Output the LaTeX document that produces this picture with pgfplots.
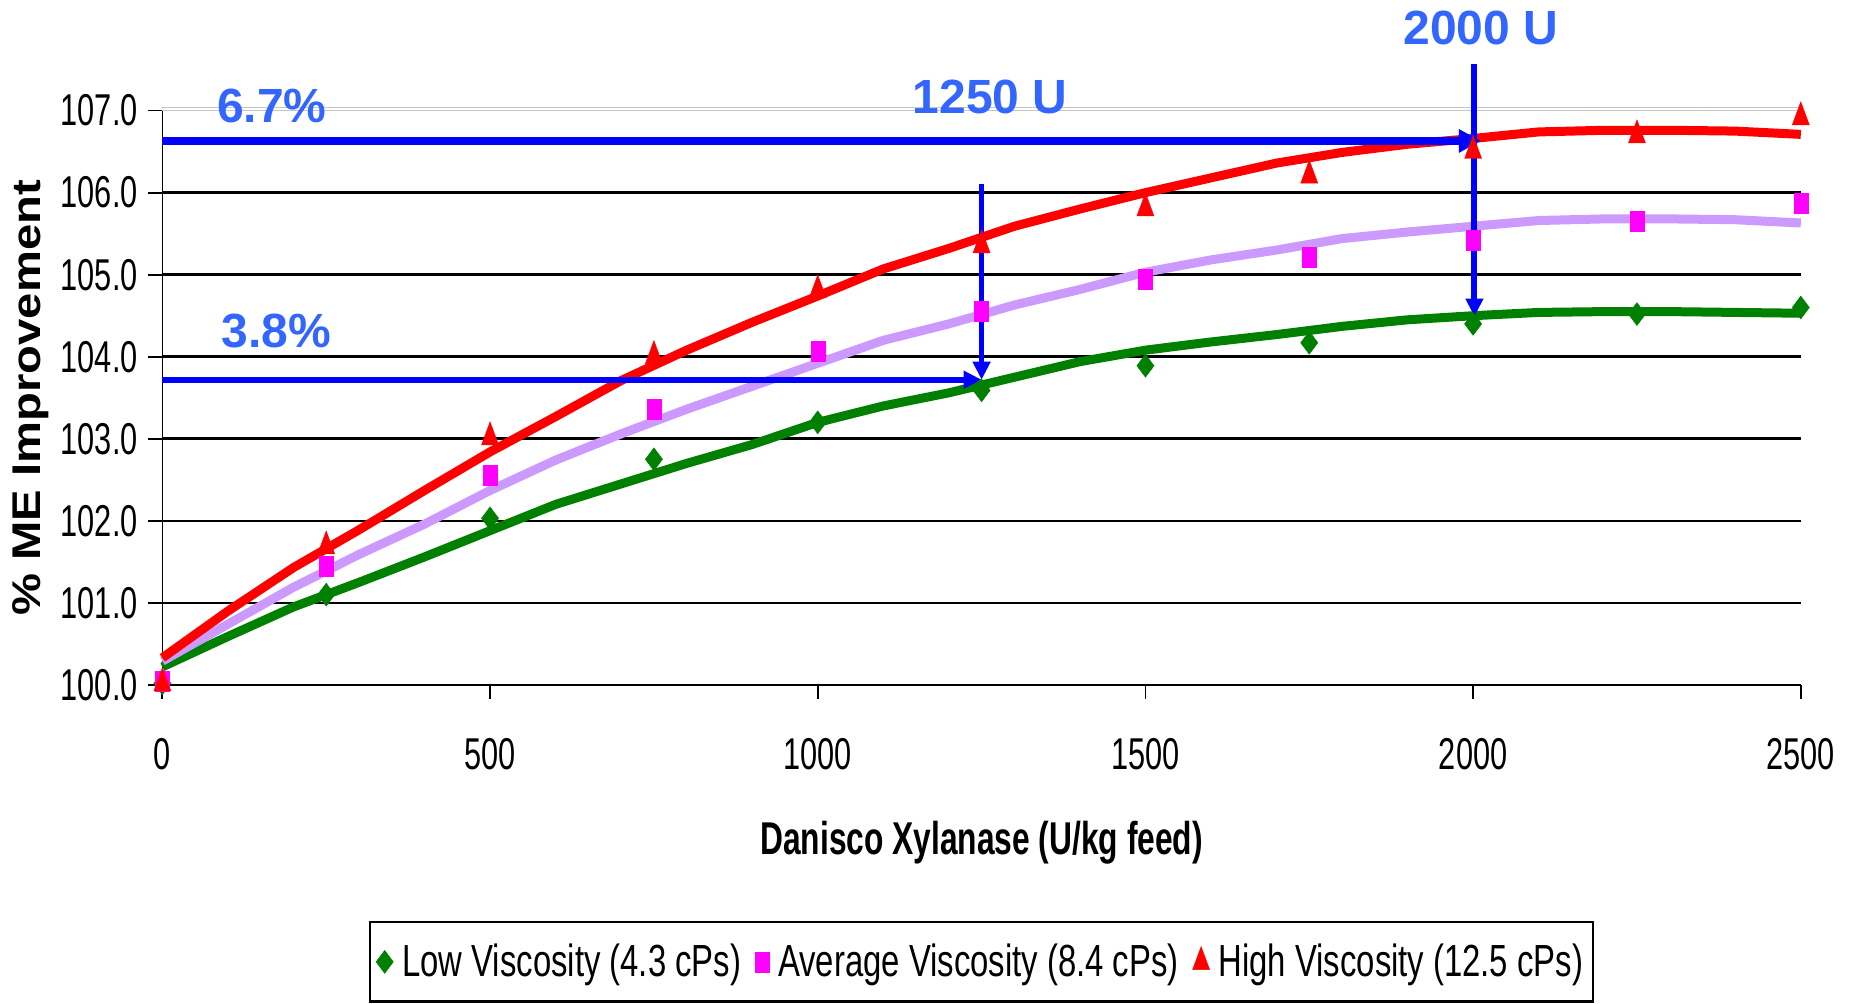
\documentclass[border=0pt]{standalone}
\usepackage{fontspec}
\setmainfont{Liberation Sans}
\newfontfamily\condfont[FakeStretch=0.69]{Liberation Sans}
\newfontfamily\legfont[FakeStretch=0.73]{Liberation Sans}
\usepackage{pgfplots}
\pgfplotsset{compat=1.18}
\usepackage{pgfplotstable}
\usetikzlibrary{arrows.meta}

\definecolor{lowgreen}{RGB}{0,128,0}
\definecolor{avgmag}{RGB}{255,0,255}
\definecolor{avgline}{RGB}{204,153,255}
\definecolor{highred}{RGB}{255,0,0}
\definecolor{arrowblue}{RGB}{0,0,255}
\definecolor{noteblue}{RGB}{51,102,255}

% measured points (U/kg feed, % ME)
\pgfplotstableread{
x     low     avg     high
0     100.02  100.04  100.02
250   101.10  101.45  101.69
500   102.03  102.55  103.02
750   102.75  103.36  104.01
1000  103.20  104.07  104.81
1250  103.59  104.56  105.36
1500  103.89  104.95  105.81
1750  104.17  105.21  106.21
2000  104.40  105.42  106.51
2250  104.52  105.65  106.70
2500  104.60  105.87  106.92
}\measured

% fitted response curves
\pgfplotstableread{
x     low     avg     high
0     100.22  100.29  100.33
100   100.59  100.74  100.90
200   100.95  101.19  101.43
300   101.25  101.59  101.89
400   101.56  101.96  102.37
500   101.88  102.37  102.84
600   102.20  102.74  103.27
700   102.45  103.06  103.71
800   102.70  103.36  104.08
900   102.93  103.64  104.42
1000  103.20  103.92  104.74
1100  103.40  104.20  105.07
1200  103.56  104.40  105.32
1300  103.75  104.63  105.59
1400  103.94  104.82  105.80
1500  104.08  105.03  106.00
1600  104.18  105.18  106.18
1700  104.27  105.30  106.36
1800  104.37  105.44  106.49
1900  104.45  105.52  106.59
2000  104.50  105.59  106.66
2100  104.54  105.66  106.74
2200  104.55  105.68  106.76
2300  104.55  105.68  106.76
2400  104.54  105.67  106.75
2500  104.53  105.63  106.71
}\fitted

\begin{document}
\begin{tikzpicture}
\begin{axis}[
  at={(0,0)}, anchor=south west,
  scale only axis,
  width=819.3pt, height=287.2pt,
  xmin=0, xmax=2500, ymin=100, ymax=107,
  clip=false,
  axis x line*=bottom, axis y line*=left,
  x axis line style={line width=1.3pt, black},
  y axis line style={line width=0.8pt, black},
  xtick={0,500,1000,1500,2000,2500},
  ytick={100,101,...,107},
  tick align=outside,
  major tick length=7pt,
  tick style={black, line width=0.9pt},
  extra y ticks={101,102,103,104,105,106},
  extra y tick labels={},
  extra y tick style={grid=major, major grid style={black, line width=1.3pt}, tick style={draw=none}},
  /pgf/number format/assume math mode=true,
  yticklabel style={/pgf/number format/fixed, /pgf/number format/fixed zerofill, /pgf/number format/precision=1, xshift=-1.8pt},
  ticklabel style={font=\condfont\fontsize{22.3}{26}\selectfont, black},
  xticklabel style={/pgf/number format/1000 sep={}, yshift=-16pt},
  xlabel={Danisco Xylanase (U/kg feed)},
  xlabel style={font=\condfont\bfseries\fontsize{23}{27}\selectfont, at={([yshift=-84.7pt]axis description cs:0.5,0)}, anchor=base},
  ylabel={\% ME Improvement},
  ylabel style={font=\bfseries\fontsize{23.6}{28}\selectfont, at={([xshift=-61pt]axis description cs:0,0.5)}, anchor=base, yscale=0.85},
  legend columns=3,
  legend style={at={([yshift=-138.5pt]axis description cs:0.5,0)}, anchor=center,
    draw=black, line width=1.3pt, fill=white,
    font=\legfont\fontsize{22.5}{27}\selectfont,
    inner xsep=3pt, inner ysep=9pt,
    nodes={inner xsep=2pt, inner ysep=2pt, line width=0.3pt},
    /tikz/every odd column/.append style={column sep=2.5pt},
    /tikz/every even column/.append style={column sep=5pt}},
  legend image code/.code={\draw[#1] plot coordinates {(0pt,0pt)};},
]
% light border line along the top of the plot area
\draw[gray!45, line width=0.6pt] (axis cs:0,107) -- (axis cs:2500,107);
\draw[gray!45, line width=0.6pt] (axis cs:0,107.033) -- (axis cs:2500,107.033);

% measured points
\addplot[only marks, mark=diamond*, mark size=5.75pt,
  mark options={fill=lowgreen, draw=lowgreen, line width=0.2pt}]
  table[x=x, y=low] {\measured};
\addlegendentry{Low Viscosity (4.3 cPs)}
\addplot[only marks, mark=square*, mark size=5pt,
  mark options={xscale=0.7, fill=avgmag, draw=avgmag, line width=0.2pt}]
  table[x=x, y=avg] {\measured};
\addlegendentry{Average Viscosity (8.4 cPs)}
\addplot[only marks, mark=triangle*, mark size=7.67pt,
  mark options={xscale=0.64, fill=highred, draw=highred, line width=0.2pt}]
  table[x=x, y=high] {\measured};
\addlegendentry{High Viscosity (12.5 cPs)}

% fitted curves
\addplot[forget plot, no markers, lowgreen, line width=4.5pt, line join=round] table[x=x, y=low] {\fitted};
\addplot[forget plot, no markers, avgline, line width=4.5pt, line join=round] table[x=x, y=avg] {\fitted};
\addplot[forget plot, no markers, highred, line width=4.5pt, line join=round] table[x=x, y=high] {\fitted};

% dose read-off arrows
\draw[arrowblue, line width=4pt, -{Triangle[width=11pt,length=11pt]}] (axis cs:0,106.63) -- (axis cs:2012,106.63);
\draw[arrowblue, line width=3pt, -{Triangle[width=8.5pt,length=9pt]}] (axis cs:0,103.72) -- (axis cs:1250,103.72);
\draw[arrowblue, line width=2.7pt, -{Triangle[width=8.5pt,length=9pt]}] (axis cs:1250,106.11) -- (axis cs:1250,103.72);
\draw[arrowblue, line width=3pt, -{Triangle[width=8.5pt,length=9pt]}] (axis cs:2002,107.57) -- (axis cs:2002,104.49);

% annotations
\node[anchor=base, text=noteblue, font=\bfseries\fontsize{24}{28}\selectfont] at (axis cs:167,106.86) {6.7\%};
\node[anchor=base, text=noteblue, font=\bfseries\fontsize{24}{28}\selectfont] at (axis cs:174,104.11) {3.8\%};
\node[anchor=base, text=noteblue, font=\bfseries\fontsize{24}{28}\selectfont] at (axis cs:1263,106.96) {1250 U};
\node[anchor=base, text=noteblue, font=\bfseries\fontsize{24}{28}\selectfont] at (axis cs:2012,107.80) {2000 U};
\end{axis}
\path (-81.2pt,-159.5pt) rectangle (843.4pt,342.5pt);
\end{tikzpicture}
\end{document}
